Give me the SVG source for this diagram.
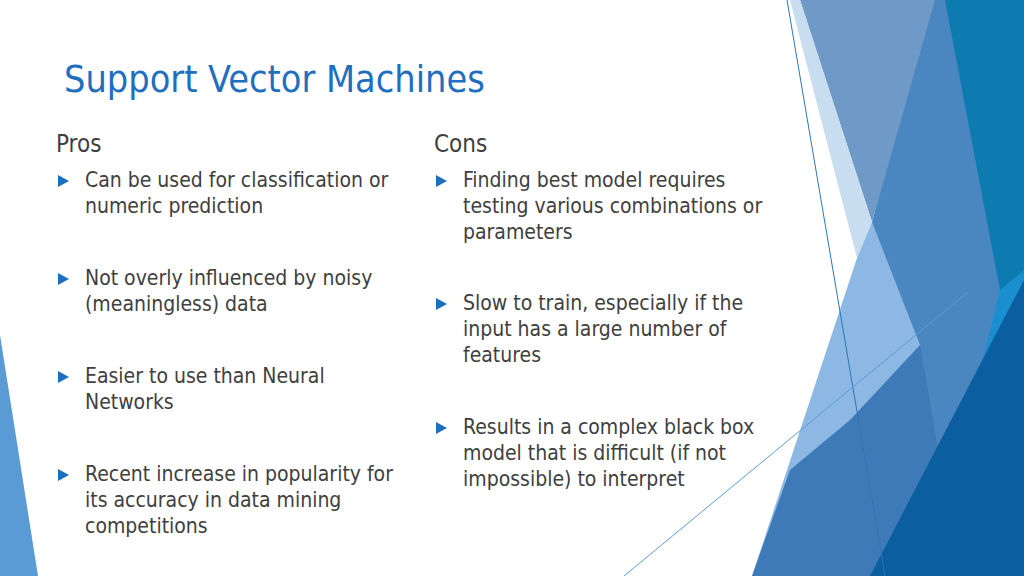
<svg xmlns="http://www.w3.org/2000/svg" width="1024" height="576" viewBox="0 0 1024 576">
<style>
.t{font-family:"DejaVu Sans Condensed","DejaVu Sans",sans-serif;fill:#404040;font-size:21px}
.h{font-size:24px}
.b{fill:#1F6FBF}
</style>
<defs><polygon id="bul" class="b" points="0,-6 11,0 0,6"/></defs>
<rect width="1024" height="576" fill="#fff"/>
<g id="deco">
<polygon points="0,335 38,576 0,576" fill="#5B9BD5"/>
<polygon points="918,0 1024,0 1024,576 960,576" fill="#0E7BB0"/>
<polygon points="930,0 945,0 1000,290 960,576 880,576 872,222" fill="#4A86C0"/>
<polygon points="800,0 935,0 872,222" fill="#6F9AC8"/>
<polygon points="790,0 800,0 872,222 857,258" fill="#C9DDF1"/>
<polygon points="872,222 920,345 845,576 752,576 857,258" fill="#8DB8E3"/>
<polygon points="920,345 960,576 752,576 790,470 850,420" fill="#3F7AB8"/>
<polygon points="1000,290 1024,270 1024,576 930,576" fill="#1A8FD0"/>
<polygon points="1024,280 1024,576 870,576" fill="#0B5FA0"/>
<line x1="787" y1="0" x2="885" y2="576" stroke="#2E75B6" stroke-width="1"/>
<line x1="624" y1="576" x2="968" y2="292" stroke="#5B9BD5" stroke-width="1"/>
</g>
<g id="title"><text x="64" y="92" class="t" style="font-size:37.5px;fill:#1F6FBF">Support Vector Machines</text></g>
<g id="pros">
<text x="56" y="152" class="t h">Pros</text>
<use href="#bul" x="58" y="181"/>
<text class="t" x="85" y="187">Can be used for classification or<tspan x="85" dy="26">numeric prediction</tspan></text>
<use href="#bul" x="58" y="279"/>
<text class="t" x="85" y="285">Not overly influenced by noisy<tspan x="85" dy="26">(meaningless) data</tspan></text>
<use href="#bul" x="58" y="377"/>
<text class="t" x="85" y="383">Easier to use than Neural<tspan x="85" dy="26">Networks</tspan></text>
<use href="#bul" x="58" y="475"/>
<text class="t" x="85" y="481">Recent increase in popularity for<tspan x="85" dy="26">its accuracy in data mining</tspan><tspan x="85" dy="26">competitions</tspan></text>
</g>
<g id="cons">
<text x="434" y="152" class="t h">Cons</text>
<use href="#bul" x="436" y="181"/>
<text class="t" x="463" y="187">Finding best model requires<tspan x="463" dy="26">testing various combinations or</tspan><tspan x="463" dy="26">parameters</tspan></text>
<use href="#bul" x="436" y="304"/>
<text class="t" x="463" y="310">Slow to train, especially if the<tspan x="463" dy="26">input has a large number of</tspan><tspan x="463" dy="26">features</tspan></text>
<use href="#bul" x="436" y="428"/>
<text class="t" x="463" y="434">Results in a complex black box<tspan x="463" dy="26">model that is difficult (if not</tspan><tspan x="463" dy="26">impossible) to interpret</tspan></text>
</g>
</svg>
